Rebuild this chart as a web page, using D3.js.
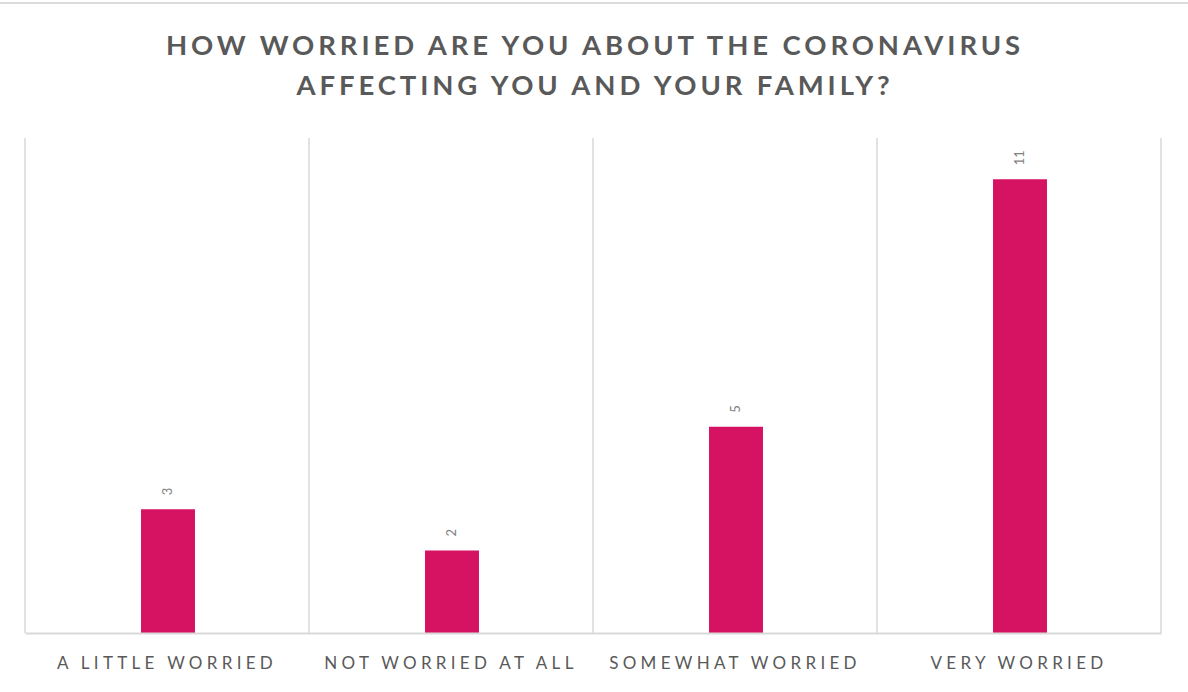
<!DOCTYPE html>
<html>
<head>
<meta charset="utf-8">
<script src="https://cdn.jsdelivr.net/npm/d3@7"></script>
<style>
  html, body { margin: 0; padding: 0; background: #fff; }
  svg { display: block; }
</style>
</head>
<body>
<svg id="chart" width="1188" height="692"></svg>
<script>
// Survey responses
const categories = ["A LITTLE WORRIED", "NOT WORRIED AT ALL", "SOMEWHAT WORRIED", "VERY WORRIED"];
const counts = [3, 2, 5, 11];
const titleLines = ["HOW WORRIED ARE YOU ABOUT THE CORONAVIRUS", "AFFECTING YOU AND YOUR FAMILY?"];
const yDomain = [0, 12];

const W = 1188, H = 692;
const margin = { top: 138, right: 27, bottom: 59, left: 25 };
const svg = d3.select("#chart");

// top edge rule
svg.append("rect").attr("x", 0).attr("y", 2).attr("width", W).attr("height", 2).attr("fill", "#dcdcdc");

const x = d3.scaleBand().domain(categories).range([margin.left, W - margin.right]).paddingInner(0).paddingOuter(0);
const y = d3.scaleLinear().domain(yDomain).range([H - margin.bottom, margin.top]);

// category separators
const edges = categories.map(c => x(c)).concat([x(categories[categories.length - 1]) + x.bandwidth()]);
svg.append("g").selectAll("line").data(edges).join("line")
  .attr("x1", d => d).attr("x2", d => d)
  .attr("y1", y(yDomain[1])).attr("y2", y(0))
  .attr("stroke", "#d9d9d9").attr("stroke-width", 1.5);

// bars
const barW = x.bandwidth() * 0.19;
svg.append("g").selectAll("rect").data(counts).join("rect")
  .attr("x", (d, i) => x(categories[i]) + x.bandwidth() / 2 - barW / 2 + 1)
  .attr("y", d => y(d))
  .attr("width", barW)
  .attr("height", d => y(0) - y(d))
  .attr("fill", "#d61362");

// value labels, rotated
svg.append("g").selectAll("text").data(counts).join("text")
  .attr("transform", (d, i) => `translate(${x(categories[i]) + x.bandwidth() / 2 + 5},${y(d) - 14}) rotate(-90)`)
  .attr("text-anchor", "start")
  .attr("font-family", "Lato, 'Open Sans', sans-serif")
  .attr("font-size", 13)
  .attr("fill", "#7f7f7f")
  .text(d => d);

// baseline axis
const xAxis = d3.axisBottom(x).tickSize(0).tickPadding(24);
const gx = svg.append("g").attr("transform", `translate(0,${y(0)})`).call(xAxis);
gx.select(".domain").attr("stroke", "#d9d9d9").attr("stroke-width", 2);
gx.selectAll("text")
  .attr("font-family", "Lato, 'Open Sans', sans-serif")
  .attr("font-size", 17)
  .attr("letter-spacing", "4.3px")
  .attr("fill", "#595959");

// title
svg.append("g").selectAll("text").data(titleLines).join("text")
  .attr("x", (margin.left + W - margin.right) / 2 + 2)
  .attr("y", (d, i) => 55 + i * 40)
  .attr("text-anchor", "middle")
  .attr("font-family", "Lato, 'Open Sans', sans-serif")
  .attr("font-weight", "bold")
  .attr("font-size", 27.5)
  .attr("letter-spacing", "3.9px")
  .attr("fill", "#595959")
  .text(d => d);
</script>
</body>
</html>
